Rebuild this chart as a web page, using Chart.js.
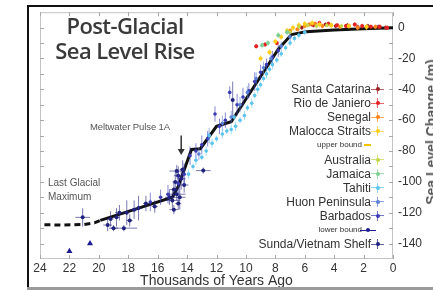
<!DOCTYPE html>
<html><head><meta charset="utf-8">
<script src="https://cdn.jsdelivr.net/npm/chart.js@4.4.1/dist/chart.umd.min.js"></script>
<style>
html,body{margin:0;padding:0;background:#fff;overflow:hidden;}
#wrap{position:relative;width:433px;height:290px;overflow:hidden;}
#c{position:absolute;left:0;top:0;}
.t{position:absolute;font-family:"Liberation Sans",Arial,sans-serif;color:#333;white-space:nowrap;}
#title{left:25px;width:200px;top:13px;text-align:center;font-family:"Open Sans",sans-serif;font-weight:600;font-size:22px;line-height:25px;letter-spacing:-0.6px;color:#3a3a3a;}
#mwp{left:90px;top:121px;font-size:9.5px;color:#555;letter-spacing:-0.1px;}
#lgm{left:48px;top:176px;font-size:10px;line-height:14px;color:#555;}
#ytitle{left:431px;top:132px;font-size:14px;font-weight:bold;color:#555;transform:translate(-50%,-50%) rotate(-90deg);transform-origin:center;}
.lg{position:absolute;right:62px;font-size:12px;line-height:14px;height:14px;text-align:right;}
.lg.small{font-size:8px;right:71px;}
.mk{position:absolute;}
#frameL{position:absolute;left:27px;top:5px;width:2px;height:285px;background:#111;}
#frameT{position:absolute;left:27px;top:5px;width:406px;height:2px;background:#111;}
#frameB{position:absolute;left:27px;top:287px;width:406px;height:3px;background:#9a9a9a;}
</style>
</head><body>
<div id="wrap">
<canvas id="c" width="433" height="290"></canvas>
<div id="frameL"></div><div id="frameT"></div><div id="frameB"></div>
<div id="title" class="t">Post-Glacial<br>Sea Level Rise</div>
<div id="mwp" class="t">Meltwater Pulse 1A</div>
<div id="lgm" class="t">Last Glacial<br>Maximum</div>
<div id="ytitle" class="t">Sea Level Change (m)</div>
<div id="legend"></div>
</div>
<script>
// ---------------- DATA ----------------
const xTickValues = [24,22,20,18,16,14,12,10,8,6,4,2,0];
const yTickValues = [0,-20,-40,-60,-80,-100,-120,-140];

const fitAgeSolid   = [19.9, 17.5, 15.0, 14.6, 13.7, 13.1, 12.0, 11.0, 9.5, 7.8, 6.9, 5.9, 4.0, 2.0, 0];
const fitLevelSolid = [-125, -117.7, -110, -103, -79, -78.5, -64, -61, -39, -14, -4.5, -2.6, -1.5, -0.7, 0];
const fitAgeDashed   = [23.7, 22.5, 21.0, 20.3, 19.9];
const fitLevelDashed = [-127.8, -128, -127.6, -126.6, -125];

const sundaAge   = [21.1, 19.4, 19.2, 19.0, 18.8, 18.6, 18.3, 18.1, 17.9, 17.6, 17.3, 16.8, 16.2, 15.2, 15.0, 14.9, 14.8, 14.7, 14.6, 14.6, 14.5, 14.4, 14.3, 14.2, 14.7, 14.9, 12.9, 10.9];
const sundaLevel = [-123, -128, -124, -130, -123, -120, -130, -120, -125, -118, -117, -114, -116, -110, -112, -105, -100, -108, -96, -114, -110, -98, -92, -102, -93, -118, -92.7, -47];
const sundaErrY  = [6, 4, 5, 2, 6, 5, 2, 8, 4, 6, 8, 5, 4, 5, 6, 5, 8, 4, 6, 4, 8, 7, 6, 5, 4, 3, 2, 12];
const sundaErrX  = [0.5, 0.3, 0.2, 0.3, 0.2, 0.3, 0.9, 0.2, 0.2, 0.3, 0.2, 0.2, 0.2, 0.3, 0.5, 0.3, 0.2, 0.6, 0.3, 0.2, 0.4, 0.3, 0.2, 0.3, 0.5, 0.3, 0.5, 0.1];

const lowerAge   = [22.0, 20.6];
const lowerLevel = [-145, -140];

const barbAge   = [16.5, 15.8, 15.3, 14.6, 14.2, 13.8, 13.4, 13.0, 12.6, 12.1, 11.8, 11.4, 11.1, 10.6, 10.2, 9.8, 9.4, 9.0, 8.6, 8.2, 7.8];
const barbLevel = [-113, -110, -108, -101, -95, -83, -80, -76, -72, -56, -64, -60, -42, -50, -45, -41, -35, -29, -24, -19, -15];
const barbErr   = [6, 5, 6, 8, 7, 6, 5, 6, 5, 5, 5, 5, 4, 7, 6, 5, 6, 5, 4, 4, 4];

const huonAge   = [13.2, 12.5, 11.6, 11.0, 10.4, 9.9, 9.3, 8.8, 8.3, 7.6, 7.0];
const huonLevel = [-82, -70, -62, -58, -50, -42, -33, -26, -20, -12, -6];
const huonErr   = [4, 5, 5, 4, 5, 4, 4, 4, 3, 3, 3];

const tahitiAge   = [13.9, 13.6, 13.4, 13.0, 12.7, 12.5, 12.3, 12.0, 11.6, 11.3, 11.0, 10.8, 10.7, 10.4, 10.1, 9.9, 9.6, 9.4, 9.2, 9.0, 8.8, 8.6, 8.4, 8.2, 7.9, 7.6, 7.3, 7.0, 6.7, 6.4, 6.0];
const tahitiLevel = [-95, -90, -86, -84, -80, -70, -75, -72, -69, -67, -66, -58, -64, -60, -57, -52, -49, -44, -40, -37, -33, -30, -27, -24, -21, -17, -13, -10, -7, -5, -3];
const tahitiErr   = [3, 2, 3, 2, 3, 2, 3, 2, 3, 2, 3, 2, 3, 2, 3, 2, 3, 2, 3, 2, 2, 3, 2, 3, 2, 2, 2, 2, 2, 2, 2];

const jamaicaAge   = [8.9, 8.5, 7.8, 7.2];
const jamaicaLevel = [-11.5, -10, -5, -3];

const australiaAge   = [7.0, 6.4, 5.8, 5.2, 4.5, 3.5];
const australiaLevel = [-3, 0.5, 1.5, 1, 1.5, 1];

const upperAge   = [7.4, 6.6, 5.6];
const upperLevel = [-4, 1, 3];

const maloccaAge   = [9.0, 8.4, 8.0, 7.6, 7.2, 6.8, 6.4, 6.0, 5.5, 5.0, 4.2, 3.0, 1.8];
const maloccaLevel = [-20, -16, -9, -6, -2, 0, 1.5, 2.5, 3, 2, 1.5, 1, 0.5];

const senegalAge   = [7.0, 6.5, 6.0, 5.7, 5.3, 4.8, 4.2, 3.6, 3.0, 2.4, 1.8, 1.2];
const senegalLevel = [-2, -1, 1, 2, 2.5, 1, 1.5, 0.5, 1, 0, 0.5, 0.5];

const rioAge   = [9.3, 8.7, 7.9, 5.5, 5.0, 4.4, 3.8, 3.2, 2.6, 2.1, 1.5, 0.9, 0.4];
const rioLevel = [-12, -11, -10, 2, 3, 2.5, 1.5, 1, 2, 1, 0.5, 0.5, 0];

const santaAge   = [6.2, 5.4, 4.6, 3.9, 3.1, 2.4, 1.7, 1.0, 0.5];
const santaLevel = [0, 1.5, 2, 1, 1.5, 0.5, 1, 0.5, 0];

const legendLabels = ['Santa Catarina','Rio de Janiero','Senegal','Malocca Straits','upper bound','Australia','Jamaica','Tahiti','Huon Peninsula','Barbados','lower bound','Sunda/Vietnam Shelf'];

// MWP-1A arrow annotation (data units)
const mwpArrowAge = 14.4, mwpArrowTop = -70, mwpArrowBottom = -82.5;

// ---------------- STYLES ----------------
const C = {
  santa:'#9a2222', rio:'#e52222', senegal:'#ff8420', malocca:'#ffcf1a', upper:'#f2c200',
  australia:'#c3d645', jamaica:'#7fce95', tahiti:'#5cc4ee', huon:'#5b80d6', barb:'#3b3bb5',
  lower:'#1c1c90', sunda:'#22227e'
};
const legendColors = [C.santa,C.rio,C.senegal,C.malocca,C.upper,C.australia,C.jamaica,C.tahiti,C.huon,C.barb,C.lower,C.sunda];
const legendKinds  = ['x','x','x','x','ub','x','x','x','x','x','lb','x'];

function hexA(h,a){const n=parseInt(h.slice(1),16);return `rgba(${n>>16},${(n>>8)&255},${n&255},${a})`;}
function pts(ages,levels){return ages.map((a,i)=>({x:a,y:levels[i]}));}
function errY(ages,levels,err,color){
  const d=[];ages.forEach((a,i)=>{const e=Array.isArray(err)?err[i]:err;d.push({x:a,y:levels[i]-e},{x:a,y:levels[i]+e},{x:a,y:null});});
  return {type:'line',data:d,borderColor:hexA(color,0.6),borderWidth:1,pointRadius:0,spanGaps:false,showLine:true,fill:false};
}
function errX(ages,levels,err,color){
  const d=[];ages.forEach((a,i)=>{d.push({x:a-err[i],y:levels[i]},{x:a+err[i],y:levels[i]},{x:a,y:null});});
  return {type:'line',data:d,borderColor:hexA(color,0.6),borderWidth:1,pointRadius:0,spanGaps:false,showLine:true,fill:false};
}
function scat(ages,levels,color,r,style){
  return {type:'scatter',data:pts(ages,levels),backgroundColor:color,borderColor:color,pointRadius:r||1.8,pointStyle:style||'circle',borderWidth:0};
}

const datasets = [
  errY(tahitiAge,tahitiLevel,tahitiErr,C.tahiti), scat(tahitiAge,tahitiLevel,C.tahiti,1.8),
  errY(huonAge,huonLevel,huonErr,C.huon), scat(huonAge,huonLevel,C.huon,1.8),
  errY(jamaicaAge,jamaicaLevel,2,C.jamaica), scat(jamaicaAge,jamaicaLevel,C.jamaica,2),
  errY(australiaAge,australiaLevel,1.5,C.australia), scat(australiaAge,australiaLevel,C.australia,1.8),
  errY(maloccaAge,maloccaLevel,2,C.malocca), scat(maloccaAge,maloccaLevel,C.malocca,2),
  scat(upperAge,upperLevel,C.upper,2,'line'),
  errY(senegalAge,senegalLevel,1.5,C.senegal), scat(senegalAge,senegalLevel,C.senegal,2),
  errY(rioAge,rioLevel,1.5,C.rio), scat(rioAge,rioLevel,C.rio,2),
  errY(santaAge,santaLevel,1.5,C.santa), scat(santaAge,santaLevel,C.santa,1.8),
  errY(barbAge,barbLevel,barbErr,C.barb), scat(barbAge,barbLevel,C.barb,1.8),
  errY(sundaAge,sundaLevel,sundaErrY,C.sunda), errX(sundaAge,sundaLevel,sundaErrX,C.sunda), scat(sundaAge,sundaLevel,C.sunda,2),
  scat(lowerAge,lowerLevel,C.lower,3.5,'triangle'),
  {type:'line',data:pts(fitAgeDashed,fitLevelDashed),borderColor:'#111',borderWidth:3,borderDash:[6,4],pointRadius:0,fill:false},
  {type:'line',data:pts(fitAgeSolid,fitLevelSolid),borderColor:'#111',borderWidth:3,pointRadius:0,fill:false,tension:0}
];

const fontFam = '"Liberation Sans", Arial, sans-serif';
Chart.defaults.font.family = fontFam;

const framePlugin = {
  id:'frame',
  beforeDatasetsDraw(chart){
    const {ctx,chartArea:a,scales:{x,y}} = chart;
    ctx.save();
    ctx.strokeStyle='#c4c4c4';ctx.lineWidth=1;
    ctx.strokeRect(a.left+0.5,a.top+0.5,a.right-a.left-1,a.bottom-a.top-1);
    ctx.strokeStyle='#a8a8a8';
    ctx.beginPath();
    xTickValues.forEach(v=>{const px=Math.round(x.getPixelForValue(v))+0.5;ctx.moveTo(px,a.top);ctx.lineTo(px,a.top+4);ctx.moveTo(px,a.bottom);ctx.lineTo(px,a.bottom-4);});
    for(let v=-140;v<=0;v+=10){const py=Math.round(y.getPixelForValue(v))+0.5;ctx.moveTo(a.left,py);ctx.lineTo(a.left+4,py);ctx.moveTo(a.right,py);ctx.lineTo(a.right-4,py);}
    ctx.stroke();
    ctx.restore();
  },
  afterDatasetsDraw(chart){
    const {ctx,scales:{x,y}} = chart;
    const px=x.getPixelForValue(mwpArrowAge), t=y.getPixelForValue(mwpArrowTop), b=y.getPixelForValue(mwpArrowBottom);
    ctx.save();
    ctx.strokeStyle='#333';ctx.fillStyle='#333';ctx.lineWidth=1.5;
    ctx.beginPath();ctx.moveTo(px,t);ctx.lineTo(px,b-5);ctx.stroke();
    ctx.beginPath();ctx.moveTo(px-3.5,b-6);ctx.lineTo(px+3.5,b-6);ctx.lineTo(px,b);ctx.closePath();ctx.fill();
    ctx.restore();
  }
};

new Chart(document.getElementById('c'),{
  type:'scatter',
  data:{datasets},
  options:{
    responsive:false,animation:false,
    layout:{padding:{left:40,top:10,right:0,bottom:0}},
    plugins:{legend:{display:false},tooltip:{enabled:false}},
    scales:{
      x:{type:'linear',reverse:true,min:0,max:24,position:'bottom',
        afterBuildTicks:s=>{s.ticks=xTickValues.map(v=>({value:v}));},
        afterFit:s=>{s.height=31;},
        grid:{display:false,drawTicks:false},border:{display:false},
        ticks:{padding:2,color:'#333',font:{size:12},maxRotation:0,autoSkip:false},
        title:{display:true,text:'Thousands of Years Ago',color:'#333',font:{size:14},padding:{top:0,bottom:0}}
      },
      y:{type:'linear',position:'right',min:-150,max:10,
        afterBuildTicks:s=>{s.ticks=yTickValues.map(v=>({value:v}));},
        afterFit:s=>{s.width=40;},
        grid:{display:false,drawTicks:false},border:{display:false},
        ticks:{padding:5,color:'#333',font:{size:12},autoSkip:false}
      }
    }
  },
  plugins:[framePlugin]
});

// ---------------- legend (HTML text) ----------------
const lg=document.getElementById('legend');
legendLabels.forEach((lab,i)=>{
  const cy=89+i*14.1;
  const d=document.createElement('div');
  d.className='t lg'+(legendKinds[i]==='x'?'':' small');
  d.style.top=(cy-7)+'px';
  d.textContent=lab;
  lg.appendChild(d);
  const col=legendColors[i];
  const add=(l,t,w,h,c,r)=>{const m=document.createElement('div');m.className='mk';Object.assign(m.style,{left:l+'px',top:t+'px',width:w+'px',height:h+'px',background:c,borderRadius:r||0});lg.appendChild(m);};
  if(legendKinds[i]==='x'){
    add(371,cy-0.5,13,1,hexA(col,0.7));
    add(377,cy-5,1,10,hexA(col,0.7));
    add(375.5,cy-2,4,4,col,'50%');
  }else if(legendKinds[i]==='ub'){
    add(364,cy-1,7,2,col);
  }else{
    add(360,cy-0.5,16,1.2,col);
    add(366,cy-2,4,4,col,'50%');
  }
});
</script>
</body></html>
